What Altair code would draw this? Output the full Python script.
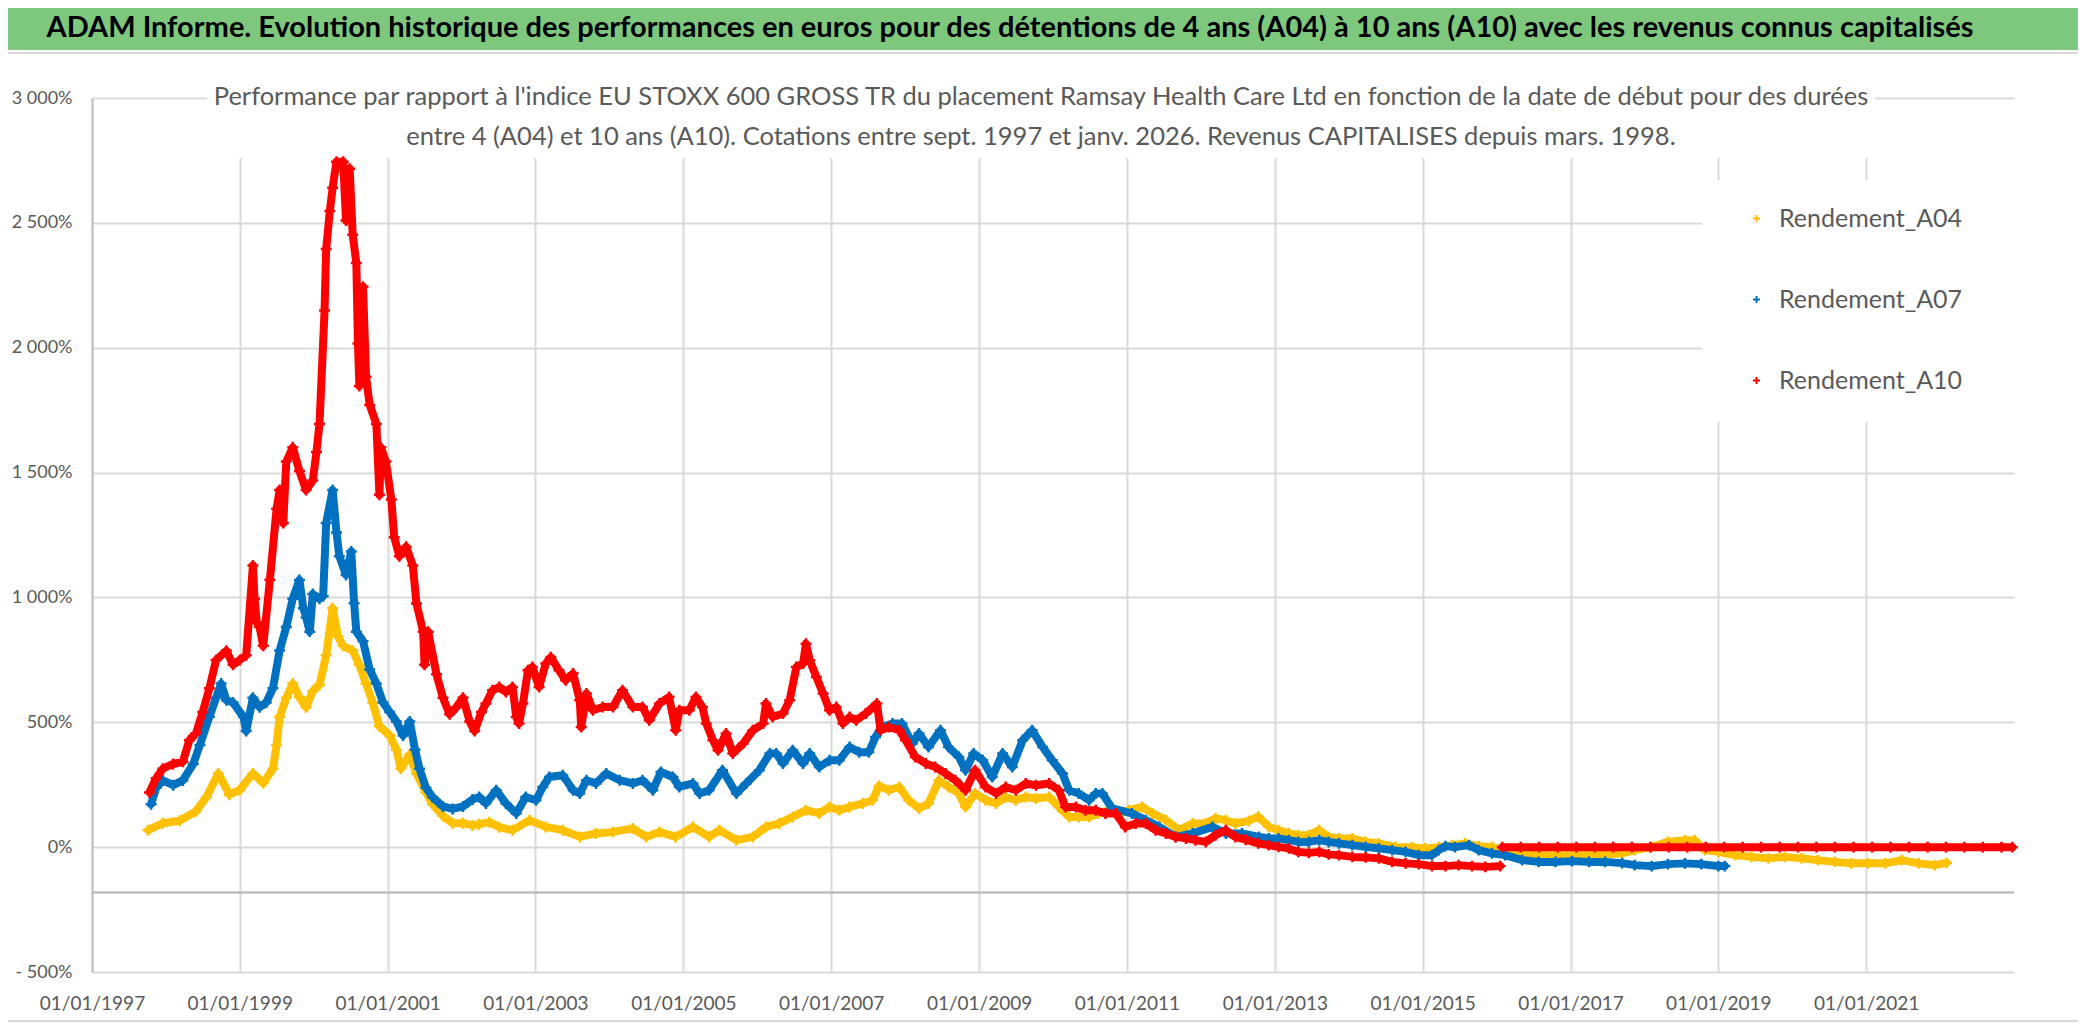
import altair as alt
import pandas as pd

TITLE = "ADAM Informe. Evolution historique des performances en euros pour des détentions de 4 ans (A04) à 10 ans (A10) avec les revenus connus capitalisés"
SUB1 = "Performance par rapport à l'indice EU STOXX 600 GROSS TR  du placement Ramsay Health Care Ltd en fonction de la date de début pour des durées"
SUB2 = "entre 4 (A04) et 10 ans (A10). Cotations entre sept. 1997 et janv. 2026. Revenus CAPITALISES depuis mars. 1998."

SERIES = ["Rendement_A04", "Rendement_A07", "Rendement_A10"]
COLORS = ["#FFC000", "#0070C0", "#FF0000"]

# start date (decimal year) / performance (%)
A04_t = [1997.76, 1997.96, 1998.19, 1998.41, 1998.55, 1998.71, 1998.86, 1999.00, 1999.18, 1999.32,
         1999.45, 1999.50, 1999.54, 1999.63, 1999.72, 1999.81, 1999.90, 1999.99, 2000.08, 2000.17,
         2000.26, 2000.33, 2000.40, 2000.53, 2000.62, 2000.71, 2000.80, 2000.89, 2001.03, 2001.12,
         2001.18, 2001.30, 2001.39, 2001.52, 2001.61, 2001.75, 2001.88, 2002.02, 2002.15, 2002.24,
         2002.38, 2002.51, 2002.69, 2002.92, 2003.14, 2003.37, 2003.60, 2003.82, 2004.05, 2004.32,
         2004.50, 2004.68, 2004.90, 2005.13, 2005.35, 2005.49, 2005.72, 2005.94, 2006.12, 2006.30,
         2006.48, 2006.66, 2006.84, 2006.98, 2007.11, 2007.25, 2007.43, 2007.56, 2007.65, 2007.78,
         2007.92, 2008.05, 2008.19, 2008.32, 2008.46, 2008.59, 2008.73, 2008.82, 2008.95, 2009.09,
         2009.23, 2009.36, 2009.50, 2009.63, 2009.77, 2009.95, 2010.08, 2010.22, 2010.35, 2010.49,
         2010.62, 2010.76, 2010.89, 2011.03, 2011.21, 2011.35, 2011.53, 2011.71, 2011.89, 2012.07,
         2012.20, 2012.34, 2012.47, 2012.65, 2012.78, 2012.92, 2013.05, 2013.19, 2013.32, 2013.46,
         2013.60, 2013.73, 2013.87, 2014.05, 2014.23, 2014.41, 2014.63, 2014.86, 2015.04, 2015.22,
         2015.40, 2015.58, 2015.76, 2015.94, 2016.12, 2016.35, 2016.57, 2016.80, 2017.02, 2017.25,
         2017.47, 2017.70, 2017.87, 2018.10, 2018.32, 2018.55, 2018.68, 2018.82, 2019.00, 2019.23,
         2019.45, 2019.68, 2019.90, 2020.13, 2020.35, 2020.58, 2020.80, 2021.03, 2021.26, 2021.48,
         2021.71, 2021.93, 2022.09]
A04_v = [68, 96, 106, 144, 200, 295, 210, 229, 295, 257,
         314, 409, 522, 598, 655, 600, 560, 625, 650, 768,
         957, 844, 806, 787, 730, 655, 579, 484, 447, 390,
         314, 371, 295, 219, 172, 125, 96, 96, 87, 92,
         100, 80, 68, 108, 81, 68, 41, 55, 61, 75,
         41, 61, 41, 81, 41, 68, 28, 41, 81, 95,
         121, 148, 135, 161, 148, 161, 175, 188, 245, 228,
         241, 188, 155, 175, 268, 241, 215, 161, 215, 188,
         175, 201, 188, 201, 195, 201, 161, 121, 121, 121,
         135, 148, 135, 148, 161, 135, 108, 68, 95, 95,
         115, 108, 95, 105, 122, 82, 68, 55, 48, 48,
         68, 41, 35, 35, 21, 15, 1, 0, -5, 0,
         8, 15, 4, 0, -12, -25, -32, -32, -32, -32,
         -28, -25, -12, 0, 21, 28, 28, -12, -19, -32,
         -39, -45, -39, -45, -52, -59, -65, -65, -65, -52,
         -65, -72, -63]

A07_t = [1997.80, 1997.87, 1997.96, 1998.10, 1998.23, 1998.37, 1998.46, 1998.59, 1998.68, 1998.75,
         1998.82, 1998.91, 1999.05, 1999.09, 1999.18, 1999.27, 1999.36, 1999.45, 1999.54, 1999.63,
         1999.72, 1999.81, 1999.86, 1999.90, 1999.95, 1999.99, 2000.08, 2000.13, 2000.17, 2000.26,
         2000.31, 2000.35, 2000.44, 2000.51, 2000.55, 2000.58, 2000.67, 2000.76, 2000.85, 2000.94,
         2001.03, 2001.12, 2001.21, 2001.30, 2001.37, 2001.43, 2001.52, 2001.61, 2001.75, 2001.88,
         2002.02, 2002.15, 2002.24, 2002.33, 2002.47, 2002.60, 2002.74, 2002.87, 2003.01, 2003.10,
         2003.19, 2003.37, 2003.51, 2003.60, 2003.69, 2003.82, 2003.96, 2004.14, 2004.32, 2004.45,
         2004.59, 2004.70, 2004.86, 2004.95, 2005.13, 2005.22, 2005.35, 2005.53, 2005.72, 2005.85,
         2006.03, 2006.17, 2006.26, 2006.35, 2006.48, 2006.62, 2006.71, 2006.84, 2006.98, 2007.11,
         2007.25, 2007.38, 2007.51, 2007.60, 2007.69, 2007.83, 2007.96, 2008.10, 2008.19, 2008.32,
         2008.48, 2008.59, 2008.73, 2008.82, 2008.93, 2009.05, 2009.18, 2009.32, 2009.45, 2009.59,
         2009.72, 2009.86, 2009.99, 2010.13, 2010.22, 2010.35, 2010.49, 2010.58, 2010.67, 2010.80,
         2011.07, 2011.26, 2011.44, 2011.66, 2011.89, 2012.16, 2012.34, 2012.56, 2012.79, 2012.92,
         2013.05, 2013.19, 2013.32, 2013.46, 2013.60, 2013.73, 2013.87, 2014.05, 2014.23, 2014.41,
         2014.59, 2014.77, 2014.95, 2015.13, 2015.22, 2015.31, 2015.44, 2015.63, 2015.76, 2015.94,
         2016.12, 2016.35, 2016.57, 2016.80, 2017.02, 2017.25, 2017.47, 2017.70, 2017.87, 2018.10,
         2018.32, 2018.55, 2018.77, 2019.00, 2019.09]
A07_v = [172, 238, 267, 248, 267, 333, 409, 522, 598, 655,
         588, 579, 522, 465, 598, 560, 579, 636, 787, 882,
         995, 1070, 957, 920, 863, 1014, 995, 1005, 1298, 1430,
         1260, 1165, 1090, 1184, 977, 863, 825, 711, 655, 579,
         541, 503, 447, 503, 390, 314, 238, 200, 163, 153,
         163, 191, 201, 175, 228, 175, 135, 201, 188, 241,
         281, 288, 228, 215, 268, 255, 295, 268, 255, 268,
         228, 301, 281, 241, 255, 215, 228, 308, 215, 255,
         308, 375, 375, 335, 388, 335, 375, 321, 348, 348,
         401, 380, 380, 441, 481, 495, 495, 415, 455, 401,
         468, 401, 361, 308, 375, 348, 281, 375, 321, 428,
         468, 401, 348, 295, 228, 215, 188, 215, 215, 155,
         135, 108, 81, 41, 55, 81, 55, 55, 41, 35,
         35, 28, 21, 21, 28, 21, 15, 8, 1, -5,
         -12, -19, -32, -32, -12, 4, 0, 8, -12, -25,
         -32, -52, -59, -59, -56, -59, -59, -64, -72, -76,
         -68, -65, -68, -76, -76]

A10_t = [1997.78, 1997.87, 1997.96, 1998.10, 1998.23, 1998.32, 1998.41, 1998.50, 1998.59, 1998.68,
         1998.82, 1998.91, 1999.00, 1999.09, 1999.18, 1999.20, 1999.23, 1999.27, 1999.32, 1999.41,
         1999.50, 1999.54, 1999.59, 1999.63, 1999.72, 1999.81, 1999.90, 1999.99, 2000.04, 2000.08,
         2000.15, 2000.17, 2000.22, 2000.26, 2000.31, 2000.40, 2000.44, 2000.49, 2000.53, 2000.58,
         2000.60, 2000.62, 2000.64, 2000.67, 2000.71, 2000.76, 2000.85, 2000.89, 2000.91, 2000.98,
         2001.05, 2001.09, 2001.16, 2001.25, 2001.34, 2001.39, 2001.48, 2001.50, 2001.55, 2001.66,
         2001.75, 2001.84, 2001.93, 2002.02, 2002.11, 2002.18, 2002.27, 2002.33, 2002.42, 2002.51,
         2002.60, 2002.69, 2002.74, 2002.78, 2002.83, 2002.90, 2002.96, 2003.05, 2003.14, 2003.21,
         2003.32, 2003.41, 2003.51, 2003.60, 2003.62, 2003.69, 2003.78, 2003.91, 2004.05, 2004.18,
         2004.32, 2004.45, 2004.54, 2004.68, 2004.81, 2004.90, 2004.95, 2005.08, 2005.17, 2005.26,
         2005.31, 2005.40, 2005.47, 2005.58, 2005.67, 2005.81, 2005.94, 2006.08, 2006.12, 2006.21,
         2006.35, 2006.44, 2006.53, 2006.62, 2006.66, 2006.71, 2006.80, 2006.89, 2006.98, 2007.07,
         2007.16, 2007.25, 2007.34, 2007.47, 2007.62, 2007.67, 2007.78, 2007.92, 2008.01, 2008.14,
         2008.28, 2008.41, 2008.55, 2008.68, 2008.82, 2008.95, 2009.09, 2009.23, 2009.36, 2009.50,
         2009.63, 2009.77, 2009.95, 2010.08, 2010.17, 2010.31, 2010.44, 2010.58, 2010.71, 2010.85,
         2010.98, 2011.12, 2011.26, 2011.39, 2011.53, 2011.66, 2011.80, 2011.93, 2012.07, 2012.20,
         2012.34, 2012.47, 2012.61, 2012.78, 2012.92, 2013.05, 2013.19, 2013.32, 2013.46, 2013.60,
         2013.73, 2013.87, 2014.05, 2014.23, 2014.41, 2014.59, 2014.77, 2014.95, 2015.13, 2015.31,
         2015.49, 2015.67, 2015.85, 2016.05]
A10_v = [219, 276, 314, 333, 342, 428, 456, 541, 636, 749,
         787, 730, 749, 768, 1128, 995, 900, 882, 806, 1071,
         1355, 1430, 1298, 1544, 1601, 1506, 1430, 1468, 1582, 1695,
         2149, 2395, 2547, 2641, 2745, 2745, 2509, 2717, 2452, 2339,
         2017, 1847, 2130, 2244, 1884, 1771, 1695, 1411, 1601, 1544,
         1392, 1241, 1165, 1203, 1128, 976, 863, 730, 863, 692,
         598, 532, 560, 598, 503, 465, 541, 575, 628, 641,
         621, 641, 521, 495, 575, 708, 721, 641, 735, 761,
         708, 668, 695, 588, 481, 615, 548, 561, 561, 628,
         561, 561, 508, 575, 601, 468, 548, 548, 601, 561,
         495, 428, 388, 455, 375, 415, 468, 495, 575, 521,
         535, 588, 721, 735, 815, 748, 681, 615, 548, 561,
         495, 521, 508, 535, 575, 468, 481, 468, 428, 361,
         335, 321, 295, 268, 228, 308, 241, 215, 241, 228,
         255, 248, 255, 228, 161, 161, 148, 148, 135, 135,
         81, 95, 95, 68, 55, 41, 35, 28, 21, 48,
         68, 41, 30, 15, 8, 1, -5, -19, -23, -19,
         -29, -32, -39, -41, -45, -59, -65, -68, -76, -76,
         -72, -76, -79, -76]

# A10 values shown at 0 % for start dates without a full 10-year window
A10_zero_t = [2016.08, 2016.33, 2016.58, 2016.83, 2017.08, 2017.33, 2017.58, 2017.83, 2018.08, 2018.33,
              2018.58, 2018.83, 2019.08, 2019.33, 2019.58, 2019.83, 2020.08, 2020.33, 2020.58, 2020.83,
              2021.08, 2021.33, 2021.58, 2021.83, 2022.08, 2022.33, 2022.58, 2022.83, 2022.98]
A10_zero_v = [0, 0, 0, 0, 0, 0, 0, 0, 0, 0,
              0, 0, 0, 0, 0, 0, 0, 0, 0, 0,
              0, 0, 0, 0, 0, 0, 0, 0, 0]

Y_TICKS = [-500, 0, 500, 1000, 1500, 2000, 2500, 3000]
X_TICK_YEARS = [1997, 1999, 2001, 2003, 2005, 2007, 2009, 2011, 2013, 2015, 2017, 2019, 2021]
AXIS_LINE_VALUE = -182

FONT = "Lato"
PLUS = "M-1,0L1,0M0,-1L0,1"


def to_date(t):
    y = int(t)
    d = pd.Timestamp(year=y, month=1, day=1) + pd.to_timedelta((t - y) * 365.25, unit="D")
    return d.strftime("%Y-%m-%d")


def frame(name, ts, vs):
    return pd.DataFrame({"date": [to_date(t) for t in ts], "value": vs, "serie": name})


x_scale = alt.Scale(type="utc",
                    domain=[alt.DateTime(year=1997, month=1, date=1, utc=True),
                            alt.DateTime(year=2023, month=1, date=1, utc=True)])
y_scale = alt.Scale(domain=[-500, 3000], nice=False, zero=False)

x_axis = alt.Axis(values=[alt.DateTime(year=y, month=1, date=1, utc=True) for y in X_TICK_YEARS],
                  format="%d/%m/%Y", labelFontSize=19, labelColor="#595959", labelFont=FONT,
                  labelPadding=22, ticks=False, tickSize=0, domain=False, grid=True,
                  gridColor="#d9d9d9", gridWidth=2, title=None, labelOverlap=False, labelFlush=False)
y_axis = alt.Axis(values=Y_TICKS,
                  labelExpr="(datum.value < 0 ? '- ' : '') + replace(format(abs(datum.value), ','), ',', ' ') + '%'",
                  labelFontSize=18, labelColor="#595959", labelFont=FONT, labelPadding=20,
                  ticks=False, tickSize=0, domain=True, domainColor="#bfbfbf", domainWidth=2,
                  grid=True, gridColor="#d9d9d9", gridWidth=2, title=None)


def X():
    return alt.X("date:T", scale=x_scale, axis=x_axis)


def Y():
    return alt.Y("value:Q", scale=y_scale, axis=y_axis)


color = alt.Color("serie:N", scale=alt.Scale(domain=SERIES, range=COLORS),
                  legend=alt.Legend(title=None, orient="none", legendX=1652, legendY=108,
                                    direction="vertical", rowPadding=55, labelFontSize=25,
                                    labelFont=FONT, labelColor="#595959", labelOffset=10,
                                    labelLimit=400, padding=0, symbolType=PLUS, symbolSize=49,
                                    symbolStrokeWidth=2))

one = pd.DataFrame({"k": [0]})

green = alt.Chart(one).mark_rect(color="#7EC87E").encode(
    x=alt.value(-84), x2=alt.value(1986), y=alt.value(-90), y2=alt.value(-48))
green_line = alt.Chart(one).mark_rule(color="#d9d9d9", strokeWidth=2).encode(
    x=alt.value(-84), x2=alt.value(1986), y=alt.value(-45))
bottom_line = alt.Chart(one).mark_rule(color="#d9d9d9", strokeWidth=2).encode(
    x=alt.value(-84), x2=alt.value(1986), y=alt.value(923))
title_box = alt.Chart(one).mark_rect(color="white").encode(
    x=alt.value(115), x2=alt.value(1783), y=alt.value(-20), y2=alt.value(60))
legend_box = alt.Chart(one).mark_rect(color="white").encode(
    x=alt.value(1610), x2=alt.value(1923), y=alt.value(82), y2=alt.value(324))

title_txt = alt.Chart(one).mark_text(text=TITLE, font=FONT, fontSize=29, fontWeight="bold",
                                     color="black", align="center", baseline="middle").encode(
    x=alt.value(918), y=alt.value(-70))
sub1_txt = alt.Chart(one).mark_text(text=SUB1, font=FONT, fontSize=25.5, color="#595959",
                                    align="center", baseline="middle").encode(
    x=alt.value(949), y=alt.value(-1))
sub2_txt = alt.Chart(one).mark_text(text=SUB2, font=FONT, fontSize=25.5, color="#595959",
                                    align="center", baseline="middle").encode(
    x=alt.value(949), y=alt.value(39))

axis_rule = alt.Chart(pd.DataFrame({"value": [AXIS_LINE_VALUE]})).mark_rule(
    color="#bfbfbf", strokeWidth=2.5).encode(y=Y())

layers = [green, green_line, bottom_line, title_box, legend_box, axis_rule]

series_data = [
    ("Rendement_A04", [(A04_t, A04_v)]),
    ("Rendement_A07", [(A07_t, A07_v)]),
    ("Rendement_A10", [(A10_t, A10_v), (A10_zero_t, A10_zero_v)]),
]
for (name, parts), col in zip(series_data, COLORS):
    for ts, vs in parts:
        d = frame(name, ts, vs)
        layers.append(alt.Chart(d).mark_line(color=col, strokeWidth=8, strokeJoin="round",
                                             strokeCap="round").encode(x=X(), y=Y()))
        layers.append(alt.Chart(d).mark_point(shape=PLUS, filled=False, strokeWidth=2.5,
                                              size=120, opacity=1).encode(x=X(), y=Y(), color=color))

layers += [title_txt, sub1_txt, sub2_txt]

chart = alt.layer(*layers).properties(
    width=1922, height=874,
    autosize=alt.AutoSizeParams(type="none"),
    padding={"left": 84, "top": 90, "right": 64, "bottom": 51},
    background="white",
).configure_view(stroke=None)

chart.save("out.html", embed_options={"renderer": "svg", "actions": False})
